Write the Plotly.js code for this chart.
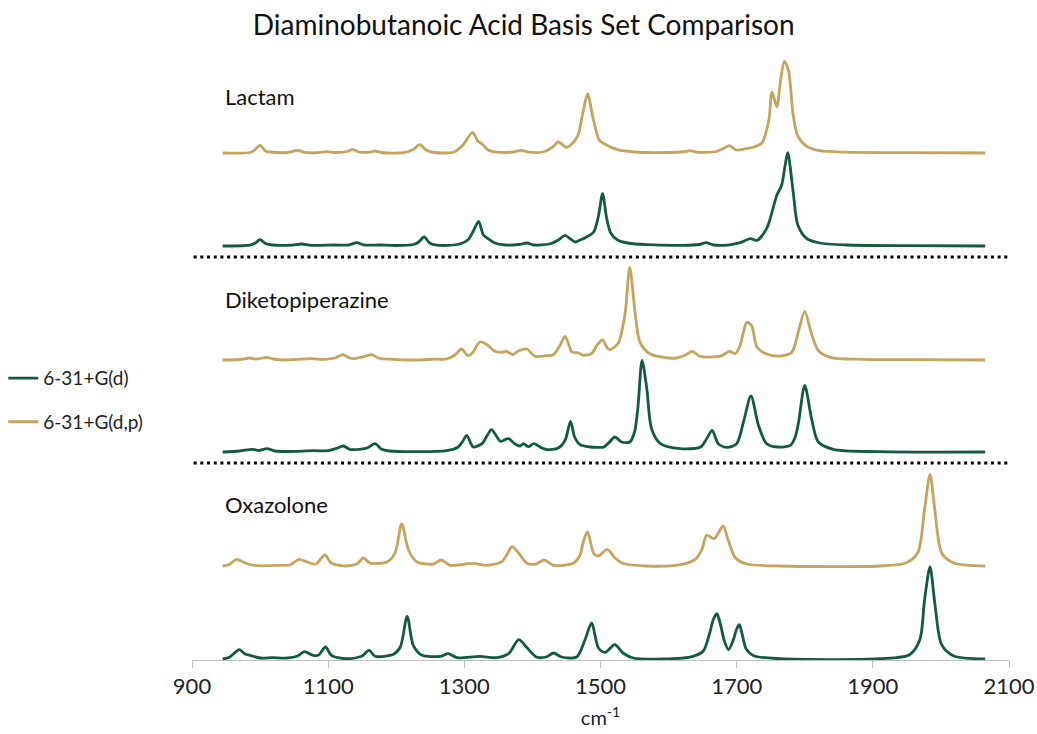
<!DOCTYPE html>
<html>
<head>
<meta charset="utf-8">
<script src="https://cdn.plot.ly/plotly-3.0.1.min.js"></script>
<style>html,body{margin:0;padding:0;background:#fff;}#chart{width:1037px;height:734px;}</style>
</head>
<body>
<div id="chart"></div>
<script>
// ---- Data (wavenumber in cm-1, intensity in arbitrary units) ----
const seriesNames = ["6-31+G(d)", "6-31+G(d,p)"];
const moleculeNames = ["Lactam", "Diketopiperazine", "Oxazolone"];
const xTicks = [900, 1100, 1300, 1500, 1700, 1900, 2100];

const lactamDP_x = [945,985,992,1000,1008,1015,1040,1056,1064,1085,1098,1110,1128,1136,1145,1160,1169,1178,1210,1225,1234,1244,1256,1285,1298,1312,1320,1326,1335,1350,1372,1384,1395,1415,1430,1438,1450,1458,1467,1474,1481,1489,1498,1506,1525,1550,1600,1625,1632,1642,1670,1682,1689,1700,1711,1725,1737,1747,1752,1759,1764,1770,1776,1783,1790,1803,1822,1861,1950,2065];
const lactamDP_y = [0,0.5,3,7.7,2,1,0.5,2.7,0.8,0.3,1.3,0.5,1.5,3.7,1,0.8,2,0.5,0.3,3.5,8.3,3,0.5,1,8,20.7,12,9,3,0.8,1,2.7,0.8,1,6,11,5.7,9,18,40,59,35,13,9,3.3,1,0.5,1.5,2.3,0.8,1.5,5,7.3,3,4,6,10,31.7,61,46,70,91.7,83,38,16.7,6.7,2.3,0.8,0.3,0];

const lactamD_x = [945,985,993,1000,1008,1018,1045,1061,1075,1108,1130,1142,1152,1176,1200,1225,1233,1241,1249,1260,1290,1305,1314,1321,1328,1335,1345,1360,1380,1392,1402,1425,1438,1448,1456,1463,1470,1477,1490,1497,1503,1509,1515,1525,1540,1568,1620,1645,1655,1666,1690,1705,1720,1730,1744,1759,1766,1771,1775,1783,1790,1803,1822,1861,1950,2065];
const lactamD_y = [0,0.8,3,6.3,2.5,1,0.8,2,0.7,1,1,3.3,1.2,1,0.5,1.5,4,9,3,0.8,1.5,6,16,24.7,11,7.3,3,1,1.5,3,1,2,6,10.7,7,4,6,8,14,30,52.3,28,13,6,3,1.3,0.7,1.5,3.3,1,1.2,3.3,7.3,5.7,17.3,50.7,60.7,80,93.3,54,20.7,7.3,3,1,0.3,0];

const diketoDP_x = [945,970,985,995,1009,1020,1035,1074,1095,1110,1121,1132,1137,1149,1164,1172,1178,1200,1225,1260,1274,1286,1296,1303,1306,1313,1318,1323,1332,1345,1354,1362,1371,1379,1392,1398,1404,1421,1431,1441,1448,1454,1458,1468,1475,1487,1495,1503,1510,1514,1526,1536,1543,1551,1558,1573,1600,1612,1625,1635,1645,1652,1678,1689,1698,1705,1710,1715,1722,1730,1744,1765,1781,1791,1800,1810,1820,1837,1886,1950,2065];
const diketoDP_y = [0,0.5,2,0.8,2.7,1,0,1.3,0.7,2,5.3,2,1.3,2.7,5.3,2.5,1.3,0.5,0,0.8,1,5,11,5.5,4.3,8,14,18,16,8.7,7.7,8.7,5.3,9,11,7,3.7,4.3,5.3,15.3,23.7,14,8,7,4.7,6.5,15,20,12,10.3,16.7,46,92.7,46,17.7,6,2,2,5,8.7,4,3,4.3,8.7,6.5,14.3,28,37.7,34.3,12.7,6,4,7.7,29.3,48.7,26,9.3,2.7,0.7,0.3,0];

const diketoD_x = [945,970,989,998,1010,1022,1040,1079,1100,1112,1122,1132,1137,1157,1169,1178,1190,1230,1274,1291,1298,1303.5,1310,1313,1326,1334,1340,1347,1353,1365,1374,1382,1387,1394,1402,1414,1421,1438,1448,1456,1462,1470,1485,1497,1504,1512,1521,1531,1543,1550,1555,1561,1568,1575,1588,1617,1647,1656,1664,1673,1686,1700,1710,1721,1732,1744,1760,1779,1786,1791,1800,1810,1820,1842,1910,2065];
const diketoD_y = [0,1,2.7,1.5,3.3,1,0.5,1.3,1.3,3.5,6,2.5,2.3,4,8.3,3,1,0.3,1.3,5,11,16.7,8,5,8.3,17,22.3,16,10.7,13.3,8.3,6,8.3,5.3,8.3,4,2.3,4,11.7,30.7,15,7.3,5,4.7,4.7,9,15,10,10,20,45,91.7,63.3,23.3,8.3,3.3,5,13.3,21.7,8.3,4.7,8.3,30,56,26.7,8.3,5,6.7,15,30,66.7,33.3,10,2.7,0.3,0];

const oxaDP_x = [945,955,965,975,982,995,1030,1044,1057,1068,1082,1095,1103,1107,1127,1142,1152,1160,1164,1186,1198,1208,1218,1230,1255,1266,1279,1313,1333,1355,1363,1370,1380,1392,1405,1417,1431,1460,1470,1475,1481,1490,1497,1510,1521,1533,1568,1617,1639,1649,1656,1667,1680,1688,1698,1715,1764,1910,1949,1966,1976,1984,1991,2001,2018,2065];
const oxaDP_y = [0,1.5,6.7,4,2,0.3,0.7,1,6.7,4.3,2,11,4,2,0,2,8,3.5,2.7,4,12.7,42,16,4.3,2,6,0.7,2.7,0.7,4.3,12,19.3,12.7,2.7,2,6,0.7,2.7,11,25,34,12.7,10,16.7,8.3,2.7,0,1.3,6.7,16.7,30.7,27.3,40,25,8.3,2,0,0,3.3,13.3,56.7,91.7,56.7,13.3,3.3,0];

const oxaD_x = [945,955,969.5,978,985,1000,1018,1040,1055,1065,1078,1086,1096,1103,1107,1127,1149,1160,1169,1196,1206,1216,1225,1238,1265,1276.5,1289,1323,1347,1365,1380,1392,1406,1420,1431,1443,1465,1477,1487,1497,1507,1521,1533,1548,1592,1636,1651,1660,1666,1671,1676,1682,1688,1695,1700,1704,1708,1714,1725,1764,1910,1954,1969,1976,1984,1991,2001,2018,2065];
const oxaD_y = [0,1.7,9.3,5,3.7,1,1.3,1,3,7.3,3.7,4,12,5,2.7,0.3,2.7,8.7,2.7,4.7,12,42.7,13.7,3.7,2.7,5.3,1.3,2.7,1.3,5.3,19.3,11.3,2,2,6,2,2,18.7,36,11,6.7,14.3,6,1,0,2.7,8,25,40,45.3,35,18,9.3,19,30,34.3,25,10,3.3,0.3,0.3,4.3,19.3,59.3,92,56,14.3,3.3,0];

// ---- Styling / layout ----
const GREEN = "#125C3B";
const GOLD = "#C6A35E";
const FONT = "Lato, 'Open Sans', sans-serif";
const offsets = {lactamDP: 507, lactamD: 414, diketoDP: 300, diketoD: 208, oxaDP: 94, oxaD: 1};
const separators = [403, 197];

function tr(xs, ys, off, color, name, group, show) {
  return {
    x: xs, y: ys.map(v => v + off), type: "scatter", mode: "lines",
    line: {color: color, width: 2.8, shape: "spline", smoothing: 0.8},
    name: name, legendgroup: group, showlegend: show, hoverinfo: "x"
  };
}

const traces = [
  tr(oxaD_x, oxaD_y, offsets.oxaD, GREEN, seriesNames[0], "d", true),
  tr(oxaDP_x, oxaDP_y, offsets.oxaDP, GOLD, seriesNames[1], "dp", true),
  tr(lactamD_x, lactamD_y, offsets.lactamD, GREEN, seriesNames[0], "d", false),
  tr(lactamDP_x, lactamDP_y, offsets.lactamDP, GOLD, seriesNames[1], "dp", false),
  tr(diketoD_x, diketoD_y, offsets.diketoD, GREEN, seriesNames[0], "d", false),
  tr(diketoDP_x, diketoDP_y, offsets.diketoDP, GOLD, seriesNames[1], "dp", false)
];

const labelY = [564, 361, 156];
const annotations = moleculeNames.map((m, i) => ({
  text: m, x: 946, y: labelY[i], xref: "x", yref: "y", xanchor: "left", yanchor: "middle",
  showarrow: false, font: {family: FONT, size: 22, color: "#111"}
}));

const shapes = separators.map(s => ({
  type: "line", xref: "paper", yref: "y", x0: 0.002, x1: 0.998, y0: s, y1: s,
  line: {color: "#000", width: 3, dash: "3px,3.7px"}
}));

const layout = {
  width: 1037, height: 734,
  margin: {l: 192, r: 28, t: 40, b: 74, autoexpand: false},
  paper_bgcolor: "#fff", plot_bgcolor: "#fff",
  font: {family: FONT, color: "#222"},
  title: {text: "Diaminobutanoic Acid Basis Set Comparison", x: 0.505, xanchor: "center", y: 0.966, yanchor: "middle",
          font: {family: FONT, size: 28, color: "#111"}},
  xaxis: {range: [900, 2100], tickvals: xTicks, ticktext: xTicks.map(String),
          showgrid: false, zeroline: false, showline: true, linecolor: "#bfbfbf", linewidth: 1,
          ticks: "outside", ticklen: 7, tickcolor: "#bfbfbf", tickwidth: 1, automargin: false,
          tickfont: {family: FONT, size: 22, color: "#222"},
          title: {text: "cm<sup>-1</sup>", font: {family: FONT, size: 20, color: "#222"}, standoff: 12}},
  yaxis: {range: [0, 620], visible: false, fixedrange: true},
  showlegend: true,
  legend: {x: -0.231, xanchor: "left", y: 0.419, yanchor: "middle", traceorder: "grouped", tracegroupgap: 16,
           font: {family: FONT, size: 19, color: "#222"}, bgcolor: "rgba(0,0,0,0)"},
  annotations: annotations,
  shapes: shapes
};

Plotly.newPlot("chart", traces, layout, {displayModeBar: false, staticPlot: true});
</script>
</body>
</html>
